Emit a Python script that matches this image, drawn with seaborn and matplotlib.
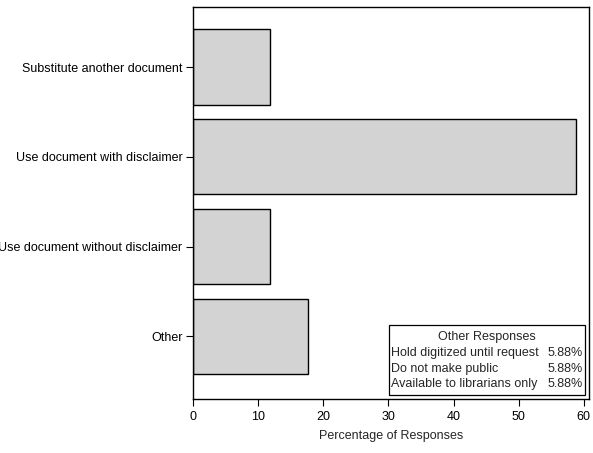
import matplotlib
matplotlib.use("Agg")
import matplotlib.pyplot as plt
import seaborn as sns
import pandas as pd
from matplotlib.patches import Rectangle

categories = ["Substitute another document", "Use document with disclaimer",
              "Use document without disclaimer", "Other"]
values = [11.76, 58.82, 11.76, 17.65]
other_labels = ["Hold digitized until request", "Do not make public", "Available to librarians only"]
other_values = ["5.88%", "5.88%", "5.88%"]
xticks = [0, 10, 20, 30, 40, 50, 60]

sns.set_style("white")
plt.rcParams['font.family'] = ['Liberation Sans', 'DejaVu Sans']
FS = 9

df = pd.DataFrame({"cat": categories, "val": values})
fig = plt.figure(figsize=(5.93, 4.53), dpi=100)
ax = fig.add_axes([193/593, 1-399/453, (589-193)/593, (399-7)/453])
sns.barplot(data=df, x="val", y="cat", order=categories, orient="h",
            color="#d3d3d3", edgecolor="black", linewidth=1.0, width=0.84,
            saturation=1, ax=ax)
ax.set_xlim(0, 60.8)
ax.set_ylim(3.7, -0.67)
ax.set_xticks(xticks)
ax.set_xticklabels([str(t) for t in xticks])
ax.set_xlabel("Percentage of Responses", fontsize=FS, labelpad=5)
ax.set_ylabel("")
ax.tick_params(axis="both", labelsize=FS, length=5, width=0.8, direction="out",
               bottom=True, left=True, colors="black")
ax.tick_params(axis="y", pad=2.5)
for s in ax.spines.values():
    s.set_visible(True)
    s.set_color("black")
    s.set_linewidth(1.0)

# Inset legend table
x0, y0 = (389-193)/396, (399-395)/392
w, h = (585-389)/396, (395-325)/392
ax.add_patch(Rectangle((x0, y0), w, h, transform=ax.transAxes, fill=True,
                       facecolor="white", edgecolor="black", linewidth=0.9, zorder=5))
ax.text(x0 + w/2, y0 + h - 0.030, "Other Responses", transform=ax.transAxes,
        ha="center", va="center", fontsize=FS, zorder=6)
for i, (lab, v) in enumerate(zip(other_labels, other_values)):
    yy = y0 + h - 0.030 - (i+1)*0.0405
    ax.text(x0 + 0.006, yy, lab, transform=ax.transAxes, ha="left", va="center",
            fontsize=FS, zorder=6)
    ax.text(x0 + w - 0.006, yy, v, transform=ax.transAxes, ha="right", va="center",
            fontsize=FS, zorder=6)

fig.savefig("out.png", dpi=100)
